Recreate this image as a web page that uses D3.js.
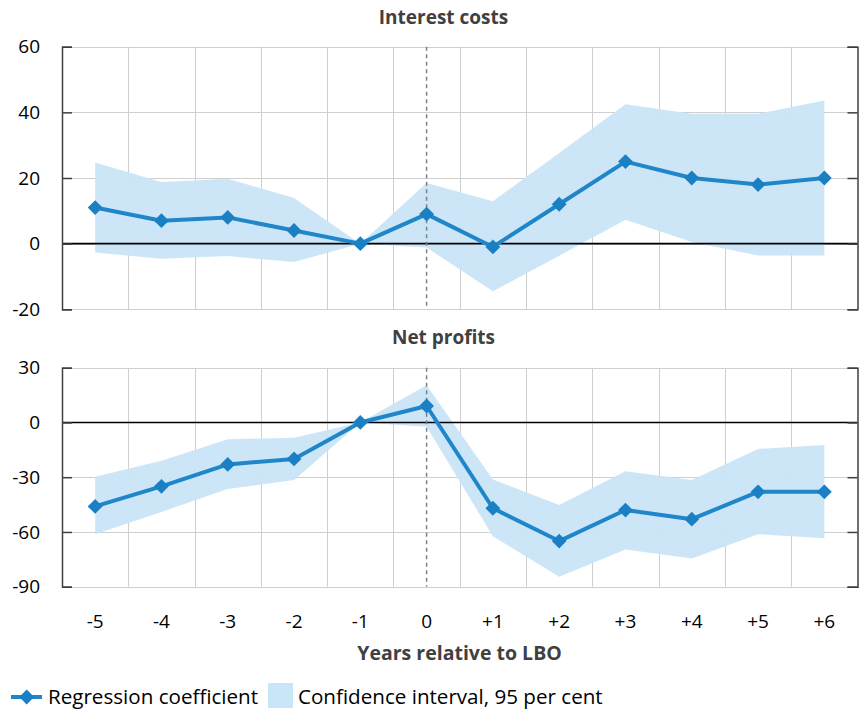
<!DOCTYPE html>
<html>
<head>
<meta charset="utf-8">
<script src="https://cdn.jsdelivr.net/npm/d3@7"></script>
<style>
  html, body { margin: 0; padding: 0; background: #fff; }
  svg { display: block; font-family: "Open Sans", "Noto Sans", sans-serif; }
</style>
</head>
<body>
<svg id="chart" width="859" height="710"></svg>
<script>
const categories = ["-5", "-4", "-3", "-2", "-1", "0", "+1", "+2", "+3", "+4", "+5", "+6"];

const interestCoef  = [11, 7, 8, 4, 0, 9, -1, 12, 25, 20, 18, 20];
const interestUpper = [24.7, 18.8, 19.8, 13.9, 0, 18.5, 12.9, 27.6, 42.5, 39.6, 39.6, 43.6];
const interestLower = [-2.7, -4.6, -3.8, -5.6, 0, -1.2, -14.5, -3.7, 7.3, 0.5, -3.6, -3.6];
const interestTicks = [-20, 0, 20, 40, 60];

const profitCoef  = [-46, -35, -23, -20, 0, 9, -47, -65, -48, -53, -38, -38];
const profitUpper = [-29.8, -21, -9.2, -8.4, 0, 20.4, -31.2, -45.3, -26.7, -31.6, -14.5, -12.4];
const profitLower = [-61.2, -49, -36.4, -31.6, 0, -2.4, -62.3, -84.6, -69.6, -74.5, -61.2, -63.4];
const profitTicks = [-90, -60, -30, 0, 30];

const panelTitles = ["Interest costs", "Net profits"];
const xAxisTitle = "Years relative to LBO";
const legendLabels = ["Regression coefficient", "Confidence interval, 95 per cent"];
const eventCategory = "0";

const lineColor = "#1f86c9";
const markerColor = "#1a7fc3";
const bandColor = "#c9e5f8";
const gridColor = "#cfcfcf";
const axisColor = "#404040";
const textColor = "#000";
const titleColor = "#404040";

const svg = d3.select("#chart");
const left = 62, right = 857.5;

const x = d3.scaleBand().domain(categories).range([left, right]).padding(0);
const cx = c => x(c) + x.bandwidth() / 2;

const panels = [
  { title: panelTitles[0], coef: interestCoef, upper: interestUpper, lower: interestLower,
    ticks: interestTicks, top: 46.7, bottom: 309.3, titleY: 24 },
  { title: panelTitles[1], coef: profitCoef, upper: profitUpper, lower: profitLower,
    ticks: profitTicks, top: 367.7, bottom: 586.7, titleY: 344 }
];

panels.forEach((p, pi) => {
  const y = d3.scaleLinear()
    .domain([d3.min(p.ticks), d3.max(p.ticks)])
    .range([p.bottom, p.top]);
  const g = svg.append("g");

  // horizontal gridlines
  g.append("g").selectAll("line").data(p.ticks).join("line")
    .attr("x1", left).attr("x2", right)
    .attr("y1", d => Math.round(y(d)) + 0.5).attr("y2", d => Math.round(y(d)) + 0.5)
    .attr("stroke", gridColor).attr("stroke-width", 1);

  // vertical gridlines at band boundaries
  g.append("g").selectAll("line").data(categories.slice(1)).join("line")
    .attr("x1", d => Math.round(x(d)) + 0.5).attr("x2", d => Math.round(x(d)) + 0.5)
    .attr("y1", p.top).attr("y2", p.bottom)
    .attr("stroke", gridColor).attr("stroke-width", 1);

  // confidence band
  const idx = d3.range(categories.length);
  const area = d3.area()
    .x(i => cx(categories[i]))
    .y0(i => y(p.lower[i]))
    .y1(i => y(p.upper[i]));
  g.append("path").datum(idx).attr("d", area)
    .attr("fill", bandColor).attr("fill-opacity", 0.95);

  // zero line
  g.append("line")
    .attr("x1", left).attr("x2", right)
    .attr("y1", y(0)).attr("y2", y(0))
    .attr("stroke", "#000").attr("stroke-width", 1.6);

  // dashed event line
  g.append("line")
    .attr("x1", cx(eventCategory)).attr("x2", cx(eventCategory))
    .attr("y1", p.top).attr("y2", p.bottom)
    .attr("stroke", "#808080").attr("stroke-width", 1.5)
    .attr("stroke-dasharray", "4,3.5");

  // coefficient line
  const line = d3.line()
    .x(i => cx(categories[i]))
    .y(i => y(p.coef[i]));
  g.append("path").datum(idx).attr("d", line)
    .attr("fill", "none").attr("stroke", lineColor).attr("stroke-width", 4)
    .attr("stroke-linejoin", "round");

  // diamonds
  const diamond = d3.symbol().type(d3.symbolSquare).size(110);
  g.append("g").selectAll("path").data(idx).join("path")
    .attr("d", diamond)
    .attr("transform", i => `translate(${cx(categories[i])},${y(p.coef[i])}) rotate(45)`)
    .attr("fill", markerColor);

  // left axis
  const axL = g.append("g").attr("transform", `translate(${left},0)`)
    .call(d3.axisLeft(y).tickValues(p.ticks).tickSize(-10).tickPadding(22).tickFormat(d => String(d)));
  axL.select(".domain").attr("stroke", axisColor).attr("stroke-width", 1.5);
  axL.selectAll(".tick line").attr("stroke", axisColor).attr("stroke-width", 1.5);
  axL.selectAll(".tick text").attr("fill", textColor).style("font-size", "19px")
    .style("font-family", "'Open Sans', sans-serif");

  // right axis
  const axR = g.append("g").attr("transform", `translate(${right},0)`)
    .call(d3.axisRight(y).tickValues(p.ticks).tickSize(-10).tickFormat(""));
  axR.select(".domain").attr("stroke", axisColor).attr("stroke-width", 1.5);
  axR.selectAll(".tick line").attr("stroke", axisColor).attr("stroke-width", 1.5);

  // panel title
  svg.append("text")
    .attr("x", 443.5).attr("y", p.titleY)
    .attr("text-anchor", "middle")
    .attr("fill", titleColor)
    .style("font-size", "19px").style("font-weight", "bold")
    .text(p.title);
});

// x axis labels (bottom panel)
const axB = svg.append("g").attr("transform", `translate(0,${panels[1].bottom})`)
  .call(d3.axisBottom(x).tickSize(0).tickPadding(28));
axB.select(".domain").remove();
axB.selectAll(".tick text").attr("fill", textColor).style("font-size", "19px")
  .style("font-family", "'Open Sans', sans-serif");

svg.append("text")
  .attr("x", 459.5).attr("y", 660)
  .attr("text-anchor", "middle")
  .attr("fill", titleColor)
  .style("font-size", "19.5px").style("font-weight", "bold")
  .text(xAxisTitle);

// legend
const lg = svg.append("g");
const ly = 697;
lg.append("line").attr("x1", 11).attr("x2", 42).attr("y1", ly).attr("y2", ly)
  .attr("stroke", lineColor).attr("stroke-width", 4);
lg.append("path").attr("d", d3.symbol().type(d3.symbolSquare).size(110)())
  .attr("transform", `translate(26.7,${ly}) rotate(45)`).attr("fill", markerColor);
lg.append("text").attr("x", 48).attr("y", 703.5).attr("fill", textColor)
  .style("font-size", "20.6px").text(legendLabels[0]);
lg.append("rect").attr("x", 268).attr("y", 683).attr("width", 25).attr("height", 25)
  .attr("fill", bandColor);
lg.append("text").attr("x", 298).attr("y", 703.5).attr("fill", textColor)
  .style("font-size", "20.6px").text(legendLabels[1]);
</script>
</body>
</html>
